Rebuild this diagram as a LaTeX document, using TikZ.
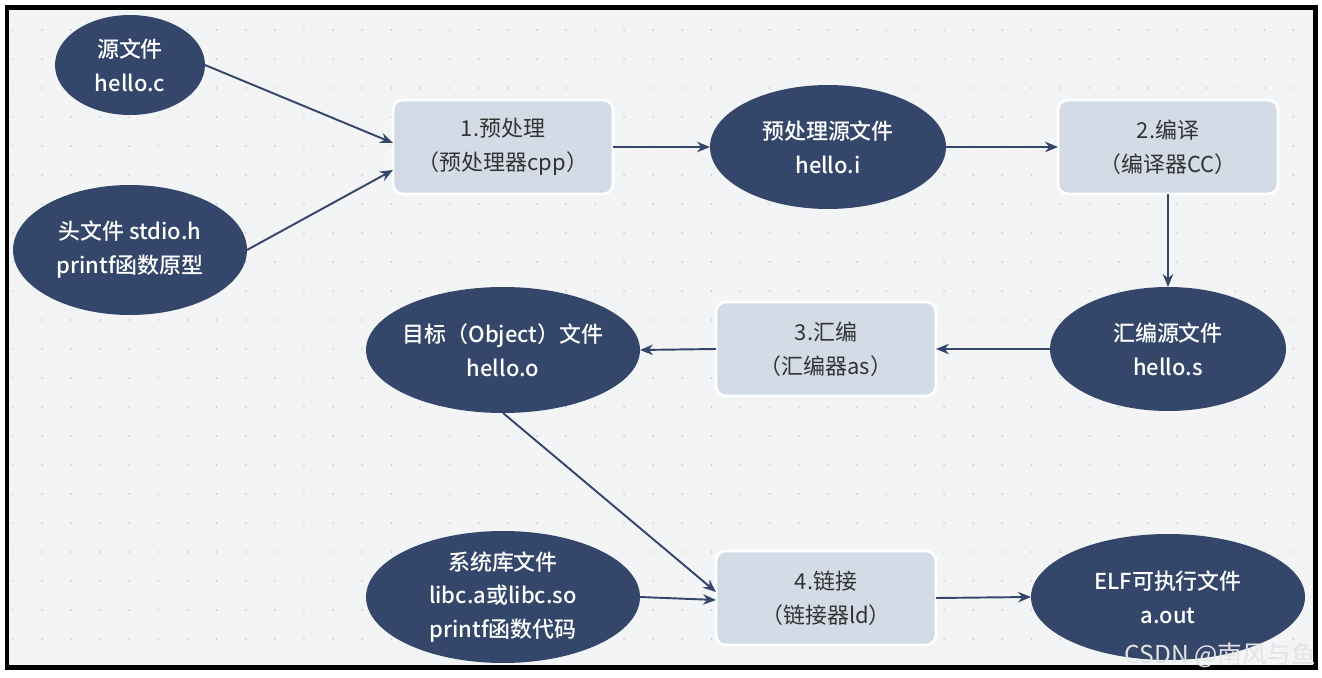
\documentclass[tikz,border=0pt]{standalone}
\usepackage{fontspec}
\setmainfont{Noto Sans CJK SC}
\newfontfamily\medfont{Noto Sans CJK SC Medium}
\usetikzlibrary{shapes.geometric,arrows.meta}
\definecolor{navy}{HTML}{34466A}
\definecolor{boxblue}{HTML}{D3DCE6}
\definecolor{paper}{HTML}{F3F4F6}
\definecolor{dotgray}{HTML}{C9CDD3}
\definecolor{inkgray}{HTML}{333333}

\begin{document}
\begin{tikzpicture}[x=0.02cm, y=-0.02cm,
  every node/.style={font=\fontsize{12.5}{19.3}\selectfont, align=center, inner sep=0pt, outer sep=0pt},
  oval/.style={ellipse, fill=navy, text=white, font=\fontsize{12.5}{19.3}\selectfont\medfont},
  stage/.style={rectangle, rounded corners=0.2cm, fill=boxblue, draw=white, line width=1.5pt, text=inkgray, minimum width=4.4cm, minimum height=1.88cm},
  flow/.style={-{Stealth[length=0.26cm, width=0.21cm]}, draw=navy, line width=1.1pt}]
\useasboundingbox (0,0) rectangle (1322,678);
\fill[white] (0,0) rectangle (1322,678);
\fill[paper] (7,8) rectangle (1315,667);
\foreach \i in {0,...,44}
  \foreach \j in {0,...,21}
    \fill[dotgray] (13+29.1*\i, 30+29*\j) circle (0.55pt);
\draw[black, line width=0.1cm] (7,8) rectangle (1315,667);

\node[oval, minimum width=3.0cm, minimum height=2.0cm] (src) at (130,65) {源文件\\hello.c};
\node[oval, minimum width=4.68cm, minimum height=2.6cm] (hdr) at (130,250) {头文件 stdio.h\\printf函数原型};
\node[stage] (pre) at (503,147) {1.预处理\\（预处理器cpp）};
\node[oval, minimum width=4.72cm, minimum height=2.48cm] (ifile) at (828,147) {预处理源文件\\hello.i};
\node[stage] (cc) at (1168,147) {2.编译\\（编译器CC）};
\node[oval, minimum width=4.72cm, minimum height=2.48cm] (sfile) at (1168,349) {汇编源文件\\hello.s};
\node[stage] (as) at (826,349) {3.汇编\\（汇编器as）};
\node[oval, inner xsep=-2pt, minimum width=5.48cm, minimum height=2.52cm] (ofile) at (503,350) {目标（Object）文件\\hello.o};
\node[oval, minimum width=5.48cm, minimum height=2.64cm] (lib) at (503,597) {系统库文件\\libc.a或libc.so\\printf函数代码};
\node[stage] (ld) at (826,598) {4.链接\\（链接器ld）};
\node[oval, minimum width=5.48cm, minimum height=2.52cm] (elf) at (1168,597) {ELF可执行文件\\a.out};
\node[text=white!78!gray, font=\fontsize{14}{16}\selectfont, anchor=east] (mark) at (1316,655) {CSDN @南风与鱼};

\draw[flow] (src.east) -- ([yshift=0.08cm]pre.west);
\draw[flow] (hdr.east) -- ([yshift=-0.46cm]pre.west);
\draw[flow] (pre.east) -- (ifile.west);
\draw[flow] (ifile.east) -- (cc.west);
\draw[flow] (cc.south) -- (sfile.north);
\draw[flow] (sfile.west) -- (as.east);
\draw[flow] (as.west) -- (ofile.east);
\draw[flow] (ofile.south) -- ([yshift=0.12cm]ld.west);
\draw[flow] (lib.east) -- ([yshift=-0.04cm]ld.west);
\draw[flow] (ld.east) -- (elf.west);
\end{tikzpicture}
\end{document}
